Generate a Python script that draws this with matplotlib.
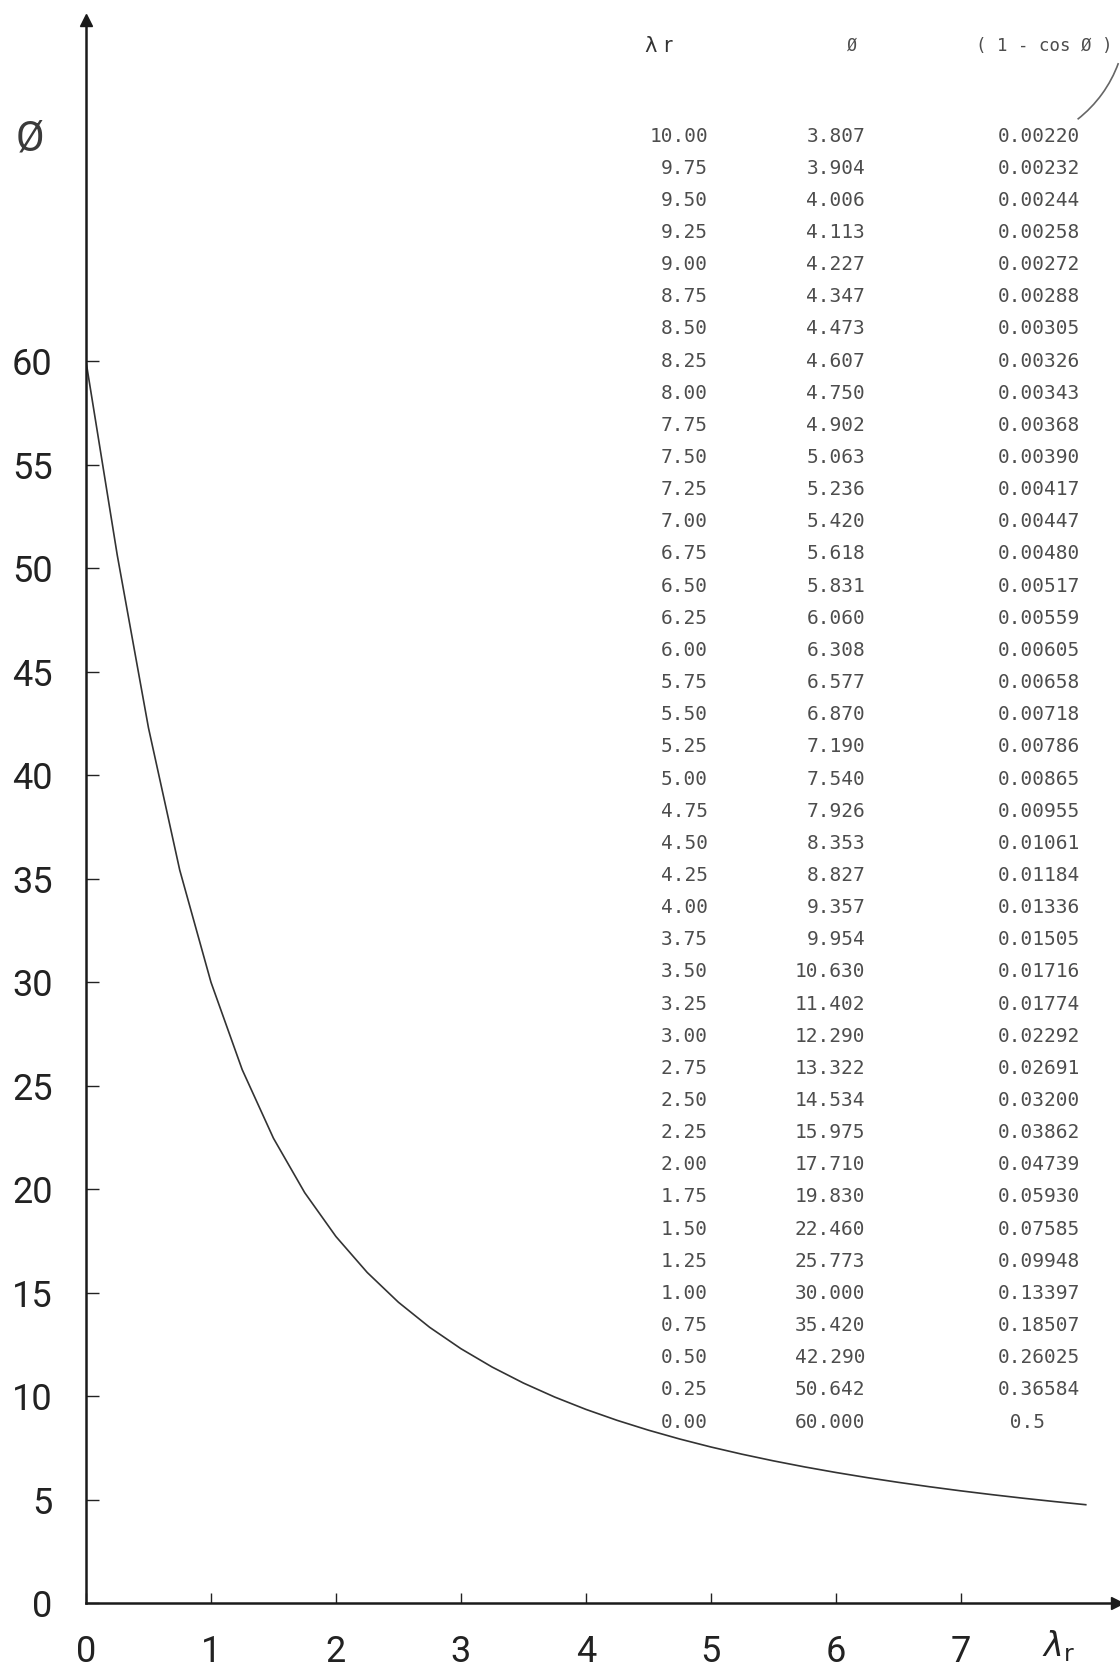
import numpy as np
import matplotlib.pyplot as plt
from matplotlib.patches import Arc

# table data (lambda_r, phi, 1 - cos phi)
lam_r = [10.00, 9.75, 9.50, 9.25, 9.00, 8.75, 8.50, 8.25, 8.00, 7.75,
         7.50, 7.25, 7.00, 6.75, 6.50, 6.25, 6.00, 5.75, 5.50, 5.25,
         5.00, 4.75, 4.50, 4.25, 4.00, 3.75, 3.50, 3.25, 3.00, 2.75,
         2.50, 2.25, 2.00, 1.75, 1.50, 1.25, 1.00, 0.75, 0.50, 0.25, 0.00]
phi = [3.807, 3.904, 4.006, 4.113, 4.227, 4.347, 4.473, 4.607, 4.750, 4.902,
       5.063, 5.236, 5.420, 5.618, 5.831, 6.060, 6.308, 6.577, 6.870, 7.190,
       7.540, 7.926, 8.353, 8.827, 9.357, 9.954, 10.630, 11.402, 12.290, 13.322,
       14.534, 15.975, 17.710, 19.830, 22.460, 25.773, 30.000, 35.420, 42.290, 50.642, 60.000]
one_minus_cos = ["0.00220", "0.00232", "0.00244", "0.00258", "0.00272", "0.00288",
                 "0.00305", "0.00326", "0.00343", "0.00368", "0.00390", "0.00417",
                 "0.00447", "0.00480", "0.00517", "0.00559", "0.00605", "0.00658",
                 "0.00718", "0.00786", "0.00865", "0.00955", "0.01061", "0.01184",
                 "0.01336", "0.01505", "0.01716", "0.01774", "0.02292", "0.02691",
                 "0.03200", "0.03862", "0.04739", "0.05930", "0.07585", "0.09948",
                 "0.13397", "0.18507", "0.26025", "0.36584", " 0.5"]

xticks = [0, 1, 2, 3, 4, 5, 6, 7]
yticks = [0, 5, 10, 15, 20, 25, 30, 35, 40, 45, 50, 55, 60]

W, H = 1120, 1676
fig = plt.figure(figsize=(W / 100, H / 100), dpi=100)
ax = fig.add_axes([86 / W, 73 / H, 1031 / W, 1583 / H])

# curve drawn only up to lambda_r = 8
lam = np.array(lam_r)
ph = np.array(phi)
m = lam <= 8.0
order = np.argsort(lam[m])
ax.plot(lam[m][order], ph[m][order], color='#333333', lw=1.2)

ax.set_xlim(0, 8.25)
ax.set_ylim(0, 76.5)
for s in ['top', 'right']:
    ax.spines[s].set_visible(False)
for s in ['left', 'bottom']:
    ax.spines[s].set_linewidth(1.8)
    ax.spines[s].set_color('#1a1a1a')

# arrow heads
ax.plot(1, 0, '>', color='#1a1a1a', ms=9, transform=ax.get_yaxis_transform(), clip_on=False)
ax.plot(0, 1, '^', color='#1a1a1a', ms=9, transform=ax.get_xaxis_transform(), clip_on=False)

hand = dict(family=['Roboto', 'DejaVu Sans'], weight='normal', size=26, color='#3a3a3a')
ax.set_xticks(xticks)
ax.set_xticklabels([str(v) for v in xticks], **hand)
ax.set_yticks(yticks)
ax.set_yticklabels([str(v) for v in yticks], **hand)
ax.tick_params(axis='x', direction='in', length=7, width=1.0, pad=22, colors='#222222')
ax.tick_params(axis='y', direction='in', length=9, width=1.0, pad=24, colors='#222222')

# axis names
fig.text(30 / W, 1 - 139 / H, 'Ø', ha='center', va='center', **dict(hand, size=30))
fig.text(1058 / W, 1 - 1646 / H, r'$\lambda_{\mathrm{r}}$', ha='center', va='center',
         size=24, color='#222222')

# printed table
mono = dict(family='DejaVu Sans Mono', size=14, color='#4d4d4d')
fig.text(645 / W, 1 - 46 / H, 'λ r', ha='left', va='center', family='DejaVu Sans', size=15, color='#333333')
fig.text(852 / W, 1 - 46 / H, 'Ø', ha='center', va='center', **dict(mono, size=12))
fig.text(1112 / W, 1 - 46 / H, '( 1 - cos Ø )', ha='right', va='center', **dict(mono, size=12.5))

row0, step = 136, 32.15
for i, (l, p, c) in enumerate(zip(lam_r, phi, one_minus_cos)):
    y = 1 - (row0 + i * step) / H
    fig.text(708 / W, y, f"{l:.2f}", ha='right', va='center', **mono)
    fig.text(865 / W, y, f"{p:.3f}", ha='right', va='center', **mono)
    fig.text(998 / W, y, c, ha='left', va='center', **mono)

# faint stamp arc in the corner
stamp = Arc((1000, H - 20), 252, 252, theta1=-52, theta2=-20, color='#666666', lw=1.2,
            transform=None)
fig.patches.append(stamp)

fig.savefig('out.png', dpi=100)
